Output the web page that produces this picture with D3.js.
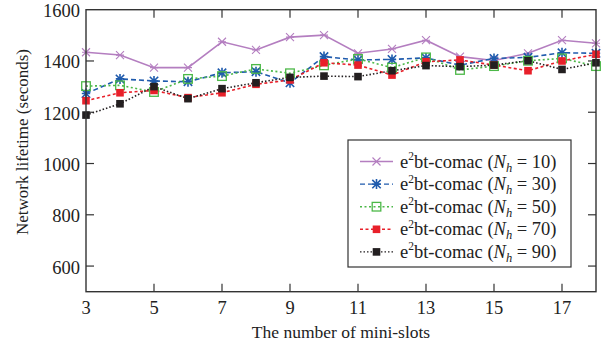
<!DOCTYPE html>
<html>
<head>
<meta charset="utf-8">
<script src="https://cdn.jsdelivr.net/npm/d3@7"></script>
<style>
  body { margin: 0; background: #fff; }
  svg text { font-family: "Liberation Serif", "DejaVu Serif", serif; fill: #222; }
</style>
</head>
<body>
<svg id="chart" width="603" height="347"></svg>
<script>
// ---------- data ----------
var slots = [3, 4, 5, 6, 7, 8, 9, 10, 11, 12, 13, 14, 15, 16, 17, 18];
var xTicks = [3, 5, 7, 9, 11, 13, 15, 17];
var yTicks = [600, 800, 1000, 1200, 1400, 1600];

var nh10 = [1434, 1423, 1374, 1374, 1475, 1443, 1493, 1501, 1430, 1447, 1481, 1417, 1402, 1430, 1481, 1469];
var nh30 = [1273, 1330, 1322, 1319, 1354, 1358, 1315, 1417, 1404, 1406, 1412, 1384, 1410, 1414, 1432, 1430];
var nh50 = [1302, 1305, 1279, 1330, 1341, 1369, 1352, 1383, 1408, 1374, 1414, 1365, 1380, 1401, 1410, 1380];
var nh70 = [1245, 1276, 1285, 1257, 1276, 1309, 1326, 1393, 1384, 1345, 1397, 1404, 1384, 1362, 1400, 1426];
var nh90 = [1189, 1233, 1300, 1253, 1292, 1315, 1336, 1341, 1339, 1362, 1382, 1378, 1384, 1401, 1367, 1393];

var series = [
  {nh: 10, values: nh10, color: "#b47ec0", dash: null,  marker: "x"},
  {nh: 30, values: nh30, color: "#1f5bad", dash: "5,3", marker: "star"},
  {nh: 50, values: nh50, color: "#4cb848", dash: "2,2.5", marker: "open"},
  {nh: 70, values: nh70, color: "#e8202a", dash: "3,2.5", marker: "fill"},
  {nh: 90, values: nh90, color: "#231f20", dash: "1.5,2", marker: "fill"}
];

// ---------- layout ----------
var svg = d3.select("#chart");
var pLeft = 86, pRight = 596, pTop = 9.7, pBottom = 291.7;

var x = d3.scaleLinear().domain([3, 18]).range([pLeft, pRight]);
var y = d3.scaleLinear().domain([500, 1600]).range([pBottom, pTop]);

var axisColor = "#333";
var tickLen = 8;

// ticks (inward on all four sides)
var g = svg.append("g");
xTicks.forEach(function(t) {
  if (t === 3) return;
  g.append("line").attr("x1", x(t)).attr("x2", x(t)).attr("y1", pBottom).attr("y2", pBottom - tickLen)
    .attr("stroke", axisColor).attr("stroke-width", 1.2);
  g.append("line").attr("x1", x(t)).attr("x2", x(t)).attr("y1", pTop).attr("y2", pTop + tickLen)
    .attr("stroke", axisColor).attr("stroke-width", 1.2);
});
yTicks.forEach(function(t) {
  if (t === 1600) return;
  g.append("line").attr("x1", pLeft).attr("x2", pLeft + tickLen).attr("y1", y(t)).attr("y2", y(t))
    .attr("stroke", axisColor).attr("stroke-width", 1.2);
  g.append("line").attr("x1", pRight).attr("x2", pRight - tickLen).attr("y1", y(t)).attr("y2", y(t))
    .attr("stroke", axisColor).attr("stroke-width", 1.2);
});

// tick labels
svg.append("g").selectAll("text").data(xTicks).enter().append("text")
  .attr("x", d => x(d)).attr("y", 314)
  .attr("text-anchor", "middle").attr("font-size", 18.5)
  .text(d => d);

svg.append("g").selectAll("text").data(yTicks).enter().append("text")
  .attr("x", pLeft - 6).attr("y", d => y(d) + 7.5)
  .attr("text-anchor", "end").attr("font-size", 18.5)
  .text(d => d);

// axis titles
svg.append("text")
  .attr("x", (pLeft + pRight) / 2).attr("y", 338)
  .attr("text-anchor", "middle").attr("font-size", 17.5)
  .text("The number of mini-slots");

svg.append("text")
  .attr("transform", "translate(28,142) rotate(-90)")
  .attr("text-anchor", "middle").attr("font-size", 17)
  .text("Network lifetime (seconds)");

// ---------- lines + markers ----------
var line = d3.line()
  .x((d, i) => x(slots[i]))
  .y(d => y(d));

function drawMarker(sel, type, color, cx, cy) {
  if (type === "x") {
    var s = 4;
    sel.append("path")
      .attr("d", `M${cx - s},${cy - s}L${cx + s},${cy + s}M${cx - s},${cy + s}L${cx + s},${cy - s}M${cx - s},${cy}L${cx + s},${cy}`)
      .attr("stroke", color).attr("stroke-width", 1.1).attr("fill", "none");
  } else if (type === "star") {
    var r = 4.2;
    sel.append("path")
      .attr("d", `M${cx - r},${cy - r}L${cx + r},${cy + r}M${cx - r},${cy + r}L${cx + r},${cy - r}M${cx},${cy - r - 0.8}L${cx},${cy + r + 0.8}M${cx - r},${cy}L${cx + r},${cy}`)
      .attr("stroke", color).attr("stroke-width", 1.6).attr("fill", "none");
  } else if (type === "open") {
    sel.append("rect").attr("x", cx - 4.3).attr("y", cy - 4.3).attr("width", 8.6).attr("height", 8.6)
      .attr("fill", "none").attr("stroke", color).attr("stroke-width", 1.3);
  } else {
    sel.append("rect").attr("x", cx - 3.8).attr("y", cy - 3.8).attr("width", 7.6).attr("height", 7.6)
      .attr("fill", color);
  }
}

var plot = svg.append("g");
series.forEach(function(s) {
  plot.append("path")
    .datum(s.values)
    .attr("d", line)
    .attr("fill", "none")
    .attr("stroke", s.color)
    .attr("stroke-width", 1.6)
    .attr("stroke-dasharray", s.dash);
});
series.forEach(function(s) {
  var mg = plot.append("g");
  s.values.forEach(function(v, i) {
    drawMarker(mg, s.marker, s.color, x(slots[i]), y(v));
  });
});

// frame
svg.append("rect")
  .attr("x", pLeft).attr("y", pTop)
  .attr("width", pRight - pLeft).attr("height", pBottom - pTop)
  .attr("fill", "none").attr("stroke", axisColor).attr("stroke-width", 1.4);

// ---------- legend ----------
var lx = 348, ly = 140, lw = 223, lh = 127;
var legend = svg.append("g");
legend.append("rect")
  .attr("x", lx).attr("y", ly).attr("width", lw).attr("height", lh)
  .attr("fill", "#fff").attr("stroke", axisColor).attr("stroke-width", 1.2);

series.forEach(function(s, i) {
  var ry = 161.5 + i * 22.6;
  legend.append("line")
    .attr("x1", 360).attr("x2", 393).attr("y1", ry).attr("y2", ry)
    .attr("stroke", s.color).attr("stroke-width", 1.4)
    .attr("stroke-dasharray", s.dash);
  drawMarker(legend, s.marker, s.color, 376.5, ry);

  var t = legend.append("text")
    .attr("x", 400).attr("y", ry + 6)
    .attr("font-size", 18.5);
  t.append("tspan").text("e");
  t.append("tspan").attr("font-size", 11.5).attr("dy", -7.5).text("2");
  t.append("tspan").attr("dy", 7.5).text("bt-comac (");
  t.append("tspan").attr("font-style", "italic").text("N");
  t.append("tspan").attr("font-style", "italic").attr("font-size", 12.5).attr("dy", 4).text("h");
  t.append("tspan").attr("dy", -4).text(" = " + s.nh + ")");
});
</script>
</body>
</html>
